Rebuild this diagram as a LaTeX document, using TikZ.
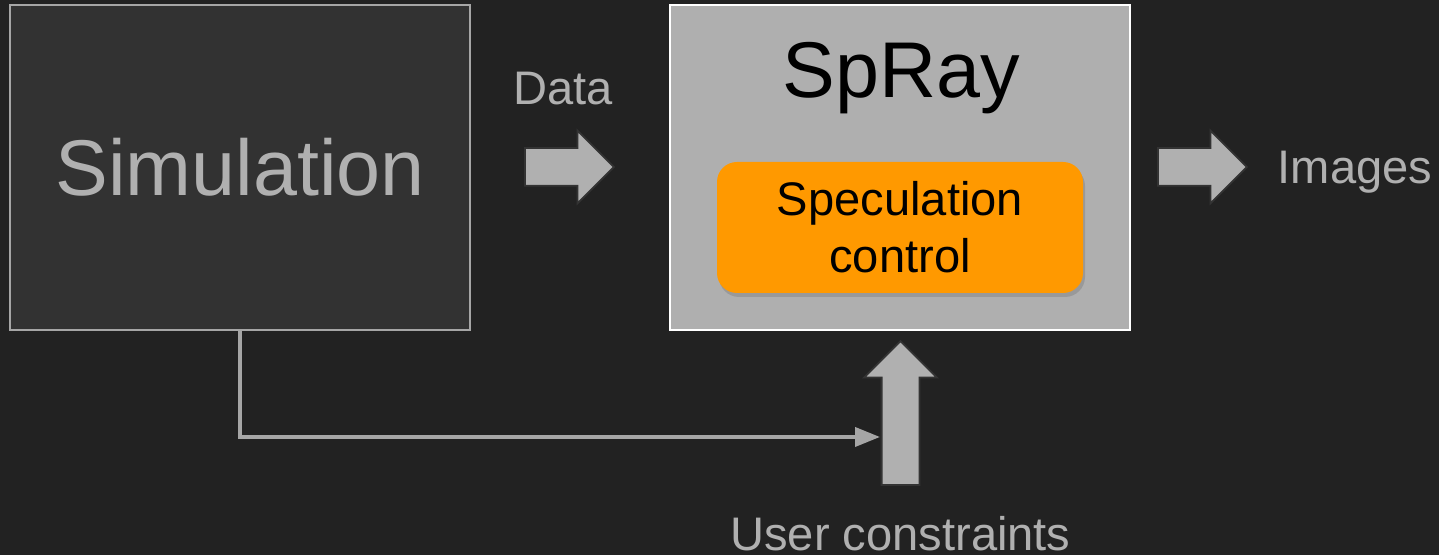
\documentclass[tikz,border=0pt]{standalone}
\usepackage{fontspec}
\setmainfont{Liberation Sans}
\usetikzlibrary{shapes.arrows,arrows.meta,shadows}
\definecolor{bgdark}{HTML}{222222}
\definecolor{simfill}{HTML}{323232}
\definecolor{lightgray}{HTML}{B0B0B0}
\definecolor{edgegray}{HTML}{A6A6A6}
\definecolor{sprayfill}{HTML}{AFAFAF}
\definecolor{ctrlorange}{HTML}{FF9900}
\begin{document}
\begin{tikzpicture}
[big/.style={font=\fontsize{22.5}{27}\selectfont},
 small/.style={font=\fontsize{13.4}{16.2}\selectfont},
 box/.style={draw,rectangle,minimum width=4.6cm,minimum height=3.25cm,line width=0.6pt},
 barrow/.style={single arrow,draw=black!80,fill=lightgray,line width=0.5pt,inner xsep=0pt,
   inner ysep=0.18cm,single arrow head extend=0.175cm,anchor=tail},
 ln/.style={-{Triangle[length=0.25cm,width=0.19cm]},edgegray,line width=1.1pt}]
\fill [bgdark] (0,0) rectangle (14.39,5.55);
\useasboundingbox (0,0) rectangle (14.39,5.55);

\node [box,draw=edgegray,fill=simfill,text=lightgray,big] at (2.40cm,3.875cm) (sim) {Simulation};
\node [box,draw=white,fill=sprayfill] at (9.00cm,3.875cm) (spray) {};
\node [big,anchor=base] at (9.015cm,4.57cm) (title) {SpRay};
\node [draw=none,fill=ctrlorange,rounded corners=0.2cm,minimum width=3.66cm,minimum height=1.31cm,
  align=center,small,drop shadow={shadow xshift=0.02cm,shadow yshift=-0.04cm,opacity=0.45}]
  at (9.00cm,3.275cm) (ctrl) {Speculation\\control};

\node [barrow,minimum height=0.89cm] at (5.24cm,3.88cm) (data) {};
\node [barrow,minimum height=0.89cm] at (11.57cm,3.88cm) (out) {};
\node [barrow,minimum height=1.44cm,rotate=90] at (9.005cm,0.69cm) (up) {};

\node [small,text=lightgray,anchor=base] at (5.63cm,4.50cm) (datalbl) {Data};
\node [small,text=lightgray,anchor=base] at (13.55cm,3.71cm) (imglbl) {Images};
\node [small,text=lightgray,anchor=base] at (9.005cm,0.04cm) (userlbl) {User constraints};

\coordinate (hit) at (8.80cm,1.18cm);
\draw [ln] (sim.south) |- (hit);
\end{tikzpicture}
\end{document}
